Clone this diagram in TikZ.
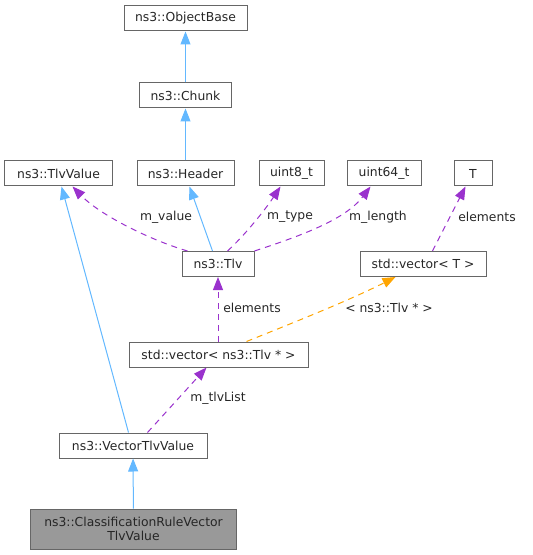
\documentclass[tikz,border=0pt]{standalone}
\usepackage{fontspec}
\setmainfont{DejaVu Sans}
\usetikzlibrary{arrows.meta}
\definecolor{boxborder}{HTML}{666666}
\definecolor{inhblue}{HTML}{63B8FF}
\definecolor{usepurple}{HTML}{9A32CD}
\definecolor{tmplorange}{HTML}{FFA500}
\definecolor{curfill}{HTML}{999999}
\tikzset{
  cls/.style={draw=boxborder, line width=1bp, fill=white, rectangle, inner sep=0pt,
    minimum height=25bp, font=\fontsize{12.4}{14.5}\selectfont, text=black!85},
  tip/.style={-{Triangle[length=13bp,width=10bp]}},
  inh/.style={tip, draw=inhblue, line width=1bp},
  usage/.style={tip, draw=usepurple, line width=1bp, dash pattern=on 6bp off 5bp},
  tmpl/.style={tip, draw=tmplorange, line width=1bp, dash pattern=on 6bp off 5bp},
  lbl/.style={font=\fontsize{12.4}{14.5}\selectfont, text=black!85, inner sep=0pt}
}
\begin{document}
\begin{tikzpicture}[x=1bp,y=-1bp]
\useasboundingbox (0,0) rectangle (533,555);
\node[cls, minimum width=123bp] (objbase) at (185.5,18.5) {ns3::ObjectBase};
\node[cls, minimum width=92bp] (chunk) at (185.5,95.5) {ns3::Chunk};
\node[cls, minimum width=107bp] (tlvvalue) at (58.5,173.5) {ns3::TlvValue};
\node[cls, minimum width=97bp] (header) at (185.5,173.5) {ns3::Header};
\node[cls, minimum width=65bp] (uint8) at (291.5,173.5) {uint8\_t};
\node[cls, minimum width=74bp] (uint64) at (384,173.5) {uint64\_t};
\node[cls, minimum width=38bp] (T) at (473,173.5) {T};
\node[cls, minimum width=72bp] (tlv) at (218,264) {ns3::Tlv};
\node[cls, minimum width=126bp] (vecT) at (423,264) {std::vector< T >};
\node[cls, minimum width=179bp] (vecTlv) at (218.5,354.5) {std::vector< ns3::Tlv * >};
\node[cls, minimum width=148bp] (vtv) at (133,445.5) {ns3::VectorTlvValue};
\node[cls, minimum width=205bp, minimum height=40bp, fill=curfill, align=center,
  font=\fontsize{12.4}{14}\selectfont] (crv) at (133.5,529) {ns3::ClassificationRuleVector\\TlvValue};

% inheritance
\draw[inh] (chunk) -- (objbase);
\draw[inh] (header) -- (chunk);
\draw[inh] ([xshift=31bp]tlv.north west) -- ([xshift=53bp]header.south west);
\draw[inh] ([xshift=70bp]vtv.north west) -- ([xshift=57bp]tlvvalue.south west);
\draw[inh] (crv) -- (vtv);

% usage
\draw[usage] ([xshift=6bp]tlv.north west) .. controls (150,240) and (100,215) .. ([xshift=68bp]tlvvalue.south west);
\node[lbl] (lvalue) at (166,217) {m\_value};
\draw[usage] ([xshift=46bp]tlv.north west) .. controls (245,235) and (265,210) .. ([xshift=22bp]uint8.south west);
\node[lbl] (ltype) at (290,217) {m\_type};
\draw[usage] (tlv.north east) .. controls (300,236) and (345,220) .. ([xshift=24bp]uint64.south west);
\node[lbl] (llength) at (378,217) {m\_length};
\draw[usage] ([xshift=73bp]vecT.north west) -- ([xshift=12bp]T.south west);
\node[lbl] (lelem1) at (487,217) {elements};
\draw[usage] (vecTlv.north -| tlv.south) -- (tlv.south);
\node[lbl] (lelem2) at (252,308) {elements};
\draw[tmpl] ([xshift=118bp]vecTlv.north west) .. controls (300,320) and (350,300) .. ([xshift=36bp]vecT.south west);
\node[lbl] (ltmpl) at (389,308) {< ns3::Tlv * >};
\draw[usage] ([xshift=89bp]vtv.north west) -- ([xshift=78bp]vecTlv.south west);
\node[lbl] (llist) at (218,398) {m\_tlvList};
\end{tikzpicture}
\end{document}
